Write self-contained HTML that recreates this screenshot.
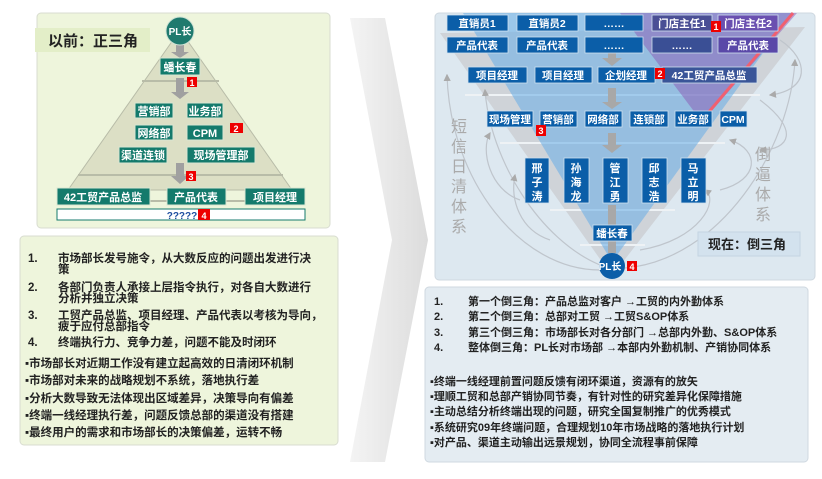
<!DOCTYPE html><html><head><meta charset="utf-8"><style>
body{margin:0;background:#fff;width:822px;height:474px;overflow:hidden}
svg text{font-family:"Liberation Sans","Noto Sans CJK SC",sans-serif}
</style></head><body>
<svg width="822" height="474" viewBox="0 0 822 474" xmlns="http://www.w3.org/2000/svg">
<defs>
<linearGradient id="chev" x1="0" x2="1"><stop offset="0" stop-color="#f4f4f4"/><stop offset="1" stop-color="#dcdcdc"/></linearGradient>
<marker id="ah" markerWidth="6" markerHeight="6" refX="5" refY="3" orient="auto"><path d="M0,0 L6,3 L0,6z" fill="#aaa"/></marker>
</defs>
<!-- chevron -->
<polygon points="350,18 385,18 428,240 385,462 350,462 392,240" fill="url(#chev)"/>

<!-- LEFT PANEL -->
<rect x="37" y="13" width="293" height="215" rx="4" fill="#eef5dc" stroke="#d8dcd0"/>
<rect x="35" y="28" width="115" height="24" fill="#e3eec8"/>
<text x="48" y="46" font-size="15" font-weight="bold" fill="#222">以前：正三角</text>
<polygon points="180,30 68,190 292,190" fill="#dcdfc5" stroke="#b8bca8"/>
<line x1="142" y1="81" x2="219" y2="81" stroke="#b8bca8" stroke-width="2"/>
<line x1="78" y1="175" x2="283" y2="175" stroke="#b8bca8" stroke-width="2"/>
<line x1="58" y1="201" x2="305" y2="201" stroke="#b8bca8" stroke-width="2"/>
<g fill="#a0a0a0"><rect x="176" y="40" width="8" height="12"/><polygon points="171,52 189,52 180,58"/>
<rect x="176" y="78" width="8" height="14"/><polygon points="171,92 189,92 180,99"/>
<rect x="176" y="163" width="8" height="13"/><polygon points="171,176 189,176 180,184"/></g>
<circle cx="180" cy="31" r="14" fill="#1f7a6e" stroke="#cfe3d5"/>
<text x="180" y="35" font-size="10" font-weight="bold" fill="#fff" text-anchor="middle">PL长</text>
<g fill="#147a6c" stroke="#d9e6d2" stroke-width="1">
<rect x="160" y="58" width="40" height="17"/>
<rect x="135" y="103" width="38" height="15"/><rect x="187" y="103" width="36" height="15"/>
<rect x="135" y="125" width="38" height="15"/><rect x="187" y="125" width="36" height="15"/>
<rect x="119" y="147" width="48" height="16"/><rect x="187" y="147" width="68" height="16"/>
<rect x="57" y="188" width="93" height="17"/><rect x="167" y="188" width="59" height="17"/><rect x="245" y="188" width="60" height="17"/>
</g>
<g fill="#fff" font-size="11" font-weight="bold" text-anchor="middle">
<text x="180" y="71">蟠长春</text>
<text x="154" y="115">营销部</text><text x="205" y="115">业务部</text>
<text x="154" y="137">网络部</text><text x="205" y="137">CPM</text>
<text x="143" y="159">渠道连锁</text><text x="221" y="159">现场管理部</text>
<text x="103" y="201">42工贸产品总监</text><text x="196" y="201">产品代表</text><text x="275" y="201">项目经理</text>
</g>
<rect x="57" y="209" width="248" height="11" fill="#fff" stroke="#147a6c"/>
<text x="182" y="219" font-size="10" font-weight="bold" fill="#1f4fa0" text-anchor="middle">?????</text>
<g fill="#e00"><rect x="187" y="77" width="10" height="10"/><rect x="230" y="123" width="13" height="10"/><rect x="186" y="171" width="10" height="10"/><rect x="198" y="209" width="12" height="11"/></g>
<g fill="#fff" font-size="9" font-weight="bold" text-anchor="middle"><text x="192" y="86">1</text><text x="236" y="132">2</text><text x="191" y="180">3</text><text x="204" y="219">4</text></g>

<!-- LEFT TEXT -->
<rect x="20" y="236" width="318" height="209" rx="4" fill="#eef5dc" stroke="#d8dcd0"/>
<g font-size="11.5" font-weight="bold" fill="#222">
<text x="28" y="262">1.</text><text x="58" y="262">市场部长发号施令，从大数反应的问题出发进行决</text><text x="58" y="273">策</text>
<text x="28" y="291">2.</text><text x="58" y="291">各部门负责人承接上层指令执行，对各自大数进行</text><text x="58" y="302">分析并独立决策</text>
<text x="28" y="319">3.</text><text x="58" y="319">工贸产品总监、项目经理、产品代表以考核为导向，</text><text x="58" y="330">疲于应付总部指令</text>
<text x="28" y="346">4.</text><text x="58" y="346">终端执行力、竞争力差，问题不能及时闭环</text>
<text x="25" y="367">▪市场部长对近期工作没有建立起高效的日清闭环机制</text>
<text x="25" y="384">▪市场部对未来的战略规划不系统，落地执行差</text>
<text x="25" y="402">▪分析大数导致无法体现出区域差异，决策导向有偏差</text>
<text x="25" y="419">▪终端一线经理执行差，问题反馈总部的渠道没有搭建</text>
<text x="25" y="436">▪最终用户的需求和市场部长的决策偏差，运转不畅</text>
</g>

<!-- RIGHT PANEL -->
<rect x="435" y="13" width="380" height="267" rx="4" fill="#dde8f0" stroke="#cfd8e0"/>
<polygon points="440,33 805,27 612,276" fill="#cfd3d8"/>
<g stroke="#eef2f5" stroke-width="2">
<line x1="465" y1="95" x2="760" y2="95"/><line x1="500" y1="143" x2="725" y2="143"/>
<line x1="550" y1="210" x2="675" y2="210"/><line x1="580" y1="245" x2="645" y2="245"/></g>
<polygon points="463,13 792,13 612,262" fill="#6fb0e6" opacity="0.6"/>
<polygon points="620,13 797,13 702,122" fill="#8a4fb0" opacity="0.45"/>
<line x1="793" y1="13" x2="702" y2="120" stroke="#f06070" stroke-width="3"/>
<g fill="#a8a8a8"><rect x="608" y="42" width="8" height="16"/><polygon points="602,58 622,58 612,66"/>
<rect x="608" y="88" width="8" height="14"/><polygon points="602,102 622,102 612,109"/>
<rect x="608" y="133" width="8" height="12"/><polygon points="602,145 622,145 612,153"/>
<rect x="608" y="205" width="8" height="20"/><rect x="608" y="241" width="8" height="12"/></g>
<g stroke="#bfc5cc" fill="none" stroke-width="1.2" marker-end="url(#ah)">
<path d="M600,270 C520,270 450,180 447,75"/>
<path d="M600,265 C540,240 490,160 485,90"/>
<path d="M520,200 C490,190 480,150 490,133"/>
<path d="M550,240 C520,230 510,200 515,175"/>
<path d="M625,268 C720,260 790,150 795,60"/>
<path d="M780,40 C810,60 810,90 770,95"/>
<path d="M760,100 C800,130 790,150 760,150"/>
<path d="M720,190 C760,180 760,150 730,140"/>
<path d="M640,250 C700,240 720,200 705,190"/>
</g>
<g fill="#0b5ea8" stroke="#cfe0ee" stroke-width="0.8">
<rect x="447" y="15" width="61" height="16"/><rect x="517" y="15" width="61" height="16"/><rect x="585" y="15" width="58" height="16"/>
<rect x="652" y="15" width="60" height="16" fill="#4a4f95"/><rect x="718" y="15" width="60" height="16" fill="#6a50b0"/>
<rect x="447" y="37" width="61" height="16"/><rect x="517" y="37" width="61" height="16"/><rect x="585" y="37" width="58" height="16"/>
<rect x="652" y="37" width="60" height="16" fill="#3a4f95"/><rect x="718" y="37" width="60" height="16" fill="#5a48a8"/>
<rect x="468" y="67" width="59" height="16"/><rect x="535" y="67" width="57" height="16"/><rect x="598" y="67" width="57" height="16"/><rect x="662" y="67" width="95" height="16" fill="#3a5598"/>
<rect x="487" y="111" width="46" height="16"/><rect x="540" y="111" width="37" height="16"/><rect x="585" y="111" width="37" height="16"/><rect x="630" y="111" width="38" height="16"/><rect x="675" y="111" width="37" height="16"/><rect x="720" y="111" width="27" height="16"/>
<rect x="525" y="158" width="24" height="45"/><rect x="564" y="158" width="25" height="45"/><rect x="603" y="158" width="25" height="45"/><rect x="642" y="158" width="25" height="45"/><rect x="681" y="158" width="25" height="45"/>
<rect x="593" y="225" width="39" height="16"/>
</g>
<circle cx="612" cy="266" r="13" fill="#0b5ea8"/>
<g fill="#fff" font-size="10.5" font-weight="bold" text-anchor="middle">
<text x="477" y="27">直销员1</text><text x="547" y="27">直销员2</text><text x="614" y="27">……</text><text x="682" y="27">门店主任1</text><text x="748" y="27">门店主任2</text>
<text x="477" y="49">产品代表</text><text x="547" y="49">产品代表</text><text x="614" y="49">……</text><text x="682" y="49">……</text><text x="748" y="49">产品代表</text>
<text x="497" y="79">项目经理</text><text x="563" y="79">项目经理</text><text x="626" y="79">企划经理</text><text x="709" y="79">42工贸产品总监</text>
<text x="510" y="123">现场管理</text><text x="558" y="123">营销部</text><text x="603" y="123">网络部</text><text x="649" y="123">连锁部</text><text x="693" y="123">业务部</text><text x="733" y="123">CPM</text>
<text x="612" y="237">蟠长春</text><text x="610" y="270" font-size="10">PL长</text>
</g>
<g fill="#fff" font-size="11" font-weight="bold" text-anchor="middle">
<text x="537" y="172">邢</text><text x="537" y="186">子</text><text x="537" y="200">涛</text>
<text x="576" y="172">孙</text><text x="576" y="186">海</text><text x="576" y="200">龙</text>
<text x="615" y="172">管</text><text x="615" y="186">江</text><text x="615" y="200">勇</text>
<text x="654" y="172">邱</text><text x="654" y="186">志</text><text x="654" y="200">浩</text>
<text x="693" y="172">马</text><text x="693" y="186">立</text><text x="693" y="200">明</text>
</g>
<g fill="#e00"><rect x="711" y="21" width="10" height="11"/><rect x="655" y="68" width="10" height="11"/><rect x="536" y="125" width="10" height="11"/><rect x="627" y="261" width="10" height="10"/></g>
<g fill="#fff" font-size="9" font-weight="bold" text-anchor="middle"><text x="716" y="30">1</text><text x="660" y="77">2</text><text x="541" y="134">3</text><text x="632" y="270">4</text></g>
<g fill="#aaa" font-size="16" text-anchor="middle">
<text x="459" y="132">短</text><text x="459" y="152">信</text><text x="459" y="172">日</text><text x="459" y="192">清</text><text x="459" y="212">体</text><text x="459" y="232">系</text>
<text x="763" y="160">倒</text><text x="763" y="180">逼</text><text x="763" y="200">体</text><text x="763" y="220">系</text>
</g>
<rect x="698" y="232" width="102" height="24" fill="#d3e2ee" stroke="#c4d4e2"/>
<text x="708" y="249" font-size="13" font-weight="bold" fill="#222">现在：倒三角</text>

<!-- RIGHT TEXT -->
<rect x="425" y="287" width="383" height="175" rx="4" fill="#e4ecf2" stroke="#cfd8e0"/>
<g font-size="11" font-weight="bold" fill="#222">
<text x="434" y="305">1.</text><text x="468" y="305">第一个倒三角：产品总监对客户 →工贸的内外勤体系</text>
<text x="434" y="320">2.</text><text x="468" y="320">第二个倒三角：总部对工贸 →工贸S&amp;OP体系</text>
<text x="434" y="336">3.</text><text x="468" y="336">第三个倒三角：市场部长对各分部门 →总部内外勤、S&amp;OP体系</text>
<text x="434" y="351">4.</text><text x="468" y="351">整体倒三角：PL长对市场部 →本部内外勤机制、产销协同体系</text>
<text x="430" y="385">▪终端一线经理前置问题反馈有闭环渠道，资源有的放矢</text>
<text x="430" y="400">▪理顺工贸和总部产销协同节奏，有针对性的研究差异化保障措施</text>
<text x="430" y="415">▪主动总结分析终端出现的问题，研究全国复制推广的优秀模式</text>
<text x="430" y="431">▪系统研究09年终端问题，合理规划10年市场战略的落地执行计划</text>
<text x="430" y="446">▪对产品、渠道主动输出远景规划，协同全流程事前保障</text>
</g>
</svg>
</body></html>
